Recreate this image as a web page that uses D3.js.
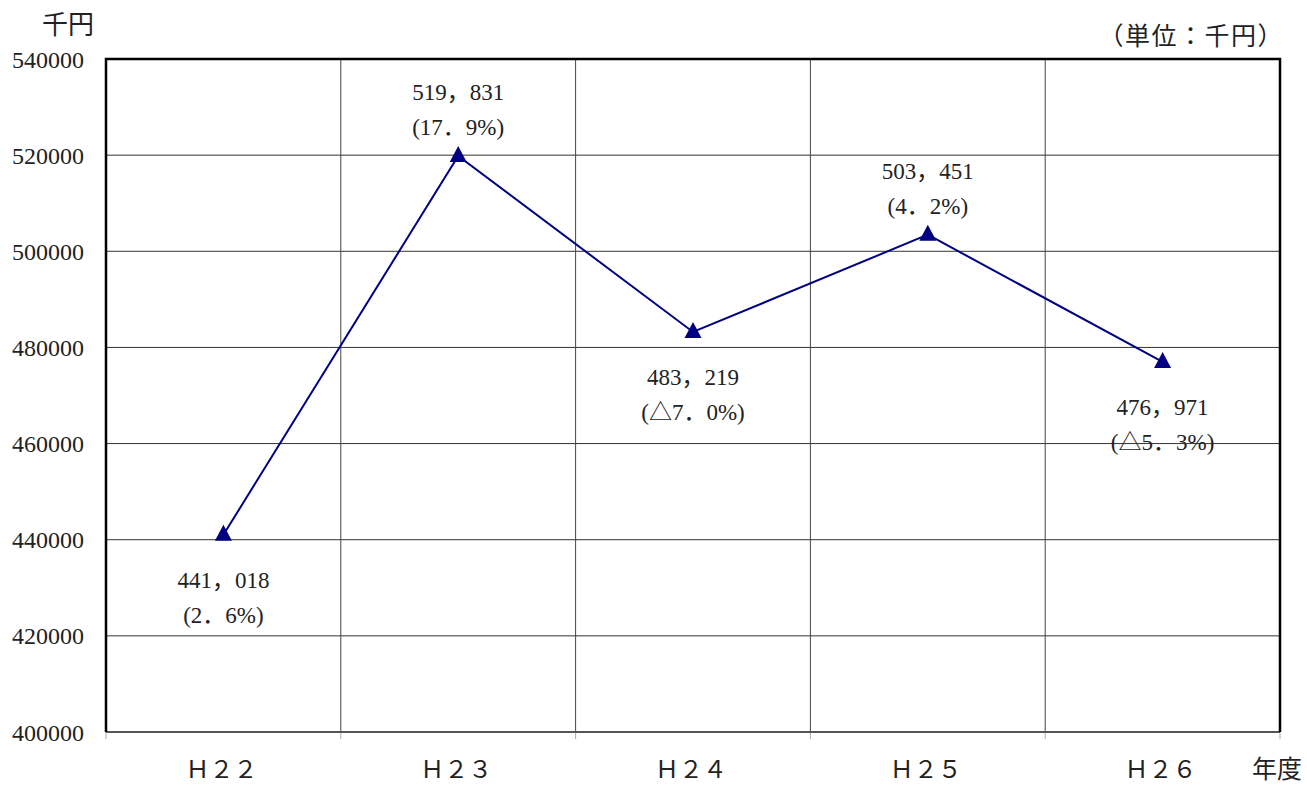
<!DOCTYPE html>
<html>
<head>
<meta charset="utf-8">
<script src="https://cdn.jsdelivr.net/npm/d3@7"></script>
<style>
  body { margin: 0; background: #fff; }
</style>
</head>
<body>
<svg id="chart"></svg>
<script>
const years = ["Ｈ２２", "Ｈ２３", "Ｈ２４", "Ｈ２５", "Ｈ２６"];
const amounts = [441018, 519831, 483219, 503451, 476971];
const rates = ["(2．6%)", "(17．9%)", "(△7．0%)", "(4．2%)", "(△5．3%)"];
const labelAbove = [false, true, false, true, false];
const yTicks = [400000, 420000, 440000, 460000, 480000, 500000, 520000, 540000];

const width = 1307, height = 786;
const margin = {top: 59, right: 27, bottom: 54, left: 106};
const FONT = "'Liberation Serif', 'Noto Sans CJK JP', serif";

const svg = d3.select("#chart").attr("width", width).attr("height", height)
    .attr("font-family", FONT);

const x = d3.scaleBand().domain(years).range([margin.left, width - margin.right]);
const y = d3.scaleLinear().domain([400000, 540000]).range([height - margin.bottom, margin.top]);

// horizontal gridlines
svg.append("g")
    .selectAll("line")
    .data(yTicks)
    .join("line")
    .attr("x1", margin.left).attr("x2", width - margin.right)
    .attr("y1", d => y(d)).attr("y2", d => y(d))
    .attr("stroke", "#333").attr("stroke-width", 1);

// vertical gridlines between categories
const bounds = years.map(d => x(d)).concat([x.range()[1]]);
svg.append("g")
    .selectAll("line")
    .data(bounds.slice(1, -1))
    .join("line")
    .attr("x1", d => d).attr("x2", d => d)
    .attr("y1", margin.top).attr("y2", y(400000))
    .attr("stroke", "#444").attr("stroke-width", 1);

// tick marks under the x axis
svg.append("g")
    .selectAll("line")
    .data(bounds)
    .join("line")
    .attr("x1", d => d).attr("x2", d => d)
    .attr("y1", y(400000)).attr("y2", y(400000) + 7)
    .attr("stroke", "#aaa").attr("stroke-width", 1);

// frame
const x0 = margin.left, x1 = width - margin.right, yTop = margin.top, yBot = y(400000);
svg.append("line").attr("x1", x0).attr("x2", x1).attr("y1", yBot).attr("y2", yBot)
    .attr("stroke", "#555").attr("stroke-width", 2);
svg.append("path")
    .attr("d", `M${x0},${yBot}V${yTop}H${x1}V${yBot}`)
    .attr("fill", "none").attr("stroke", "#000").attr("stroke-width", 2.5);

// y axis labels
svg.append("g")
    .selectAll("text")
    .data(yTicks)
    .join("text")
    .attr("x", 84).attr("y", d => y(d) + 8.5)
    .attr("text-anchor", "end")
    .attr("font-size", 24)
    .attr("fill", "#222")
    .text(d => d);

// x axis labels
svg.append("g")
    .selectAll("text")
    .data(years)
    .join("text")
    .attr("x", d => x(d) + x.bandwidth() / 2 - 2)
    .attr("y", 778)
    .attr("text-anchor", "middle")
    .attr("font-size", 24)
    .attr("fill", "#222")
    .text(d => d);

svg.append("text").attr("x", 68).attr("y", 34).attr("text-anchor", "middle")
    .attr("font-size", 26).attr("fill", "#222").text("千円");
svg.append("text").attr("x", 1284).attr("y", 45).attr("text-anchor", "end")
    .attr("font-size", 25).attr("letter-spacing", 1.5).attr("fill", "#222").text("（単位：千円）");
svg.append("text").attr("x", 1302).attr("y", 778).attr("text-anchor", "end")
    .attr("font-size", 25).attr("fill", "#222").text("年度");

// series
const pts = years.map((d, i) => ({year: d, value: amounts[i], rate: rates[i], above: labelAbove[i]}));
const cx = d => x(d.year) + x.bandwidth() / 2;

svg.append("path")
    .datum(pts)
    .attr("fill", "none")
    .attr("stroke", "#000080")
    .attr("stroke-width", 2)
    .attr("d", d3.line().x(cx).y(d => y(d.value)));

svg.append("g")
    .selectAll("path")
    .data(pts)
    .join("path")
    .attr("transform", d => `translate(${cx(d)},${y(d.value) - 1})`)
    .attr("d", "M0,-9L8.5,7L-8.5,7Z")
    .attr("fill", "#000080");

const fmt = v => d3.format(",")(v).replace(",", "，");
const labels = svg.append("g").selectAll("g").data(pts).join("g")
    .attr("transform", d => `translate(${cx(d)},${y(d.value)})`);
labels.append("text")
    .attr("text-anchor", "middle").attr("font-size", 23).attr("fill", "#222")
    .attr("y", d => d.above ? -56 : 53)
    .text(d => fmt(d.value));
labels.append("text")
    .attr("text-anchor", "middle").attr("font-size", 23).attr("fill", "#222")
    .attr("y", d => d.above ? -21 : 88)
    .text(d => d.rate);
</script>
</body>
</html>
